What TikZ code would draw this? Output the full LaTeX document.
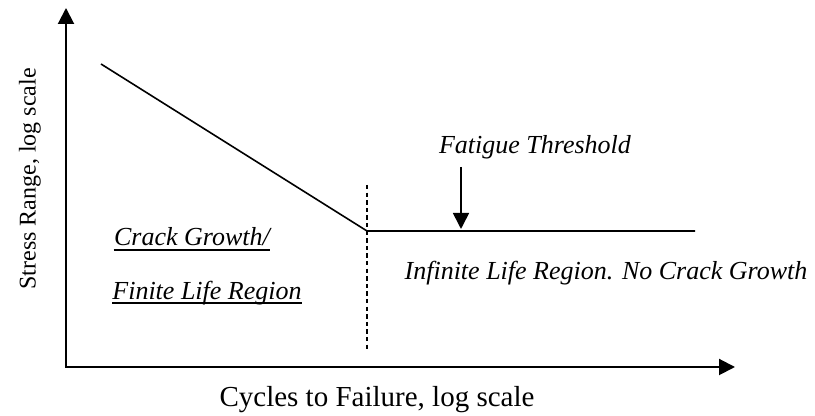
\documentclass[tikz,border=0pt]{standalone}
\usepackage{fontspec}
\setmainfont{Liberation Serif}
\usetikzlibrary{calc,positioning,arrows.meta}

\begin{document}
\begin{tikzpicture}[
x=0.5pt,y=0.5pt,
>={Triangle[length=8pt,width=8pt]},
axis/.style={
	->,
	line width=1pt
},
curve/.style={
	line width=0.8pt
},
divider/.style={
	line width=0.8pt,
	dash pattern=on 2.2pt off 1.6pt
},
region/.style={
	font=\fontsize{13}{15}\selectfont\itshape,
	inner sep=0pt
},
axislabel/.style={
	inner sep=0pt
}
]
\useasboundingbox (0,0) rectangle (815,416);

% axes
\coordinate (origin) at (66,49);
\coordinate (ytip) at (66,408);
\coordinate (xtip) at (735,49);
\draw[axis] ($(origin)+(0,-1)$) -- (ytip);
\draw[axis] ($(origin)+(-1,0)$) -- (xtip);

\node[axislabel,font=\fontsize{14.5}{17}\selectfont] (xlabel) at (377,16) {Cycles to Failure, log scale};
\node[axislabel,font=\fontsize{12}{14}\selectfont,rotate=90] (ylabel) at (30,237) {Stress Range, log scale};

% S-N curve
\coordinate (start) at (101,352);
\coordinate (knee) at (367,185);
\coordinate (finish) at (695,185);
\draw[curve] (start) -- (knee) -- (finish);

% limit between regions
\coordinate (divtop) at (367,231);
\coordinate (divbot) at (367,66);
\draw[divider] (divtop) -- (divbot);

% labels
\node[region] (threshold) at (535,269) {Fatigue Threshold};
\coordinate (thrtop) at (461,249);
\coordinate (thrpt) at (461,187);
\draw[->,line width=0.8pt] (thrtop) -- (thrpt);

\node[region] (crack) at (192,179) {Crack Growth/};
\node[region] (finite) at (207,123) {Finite Life Region};
\draw[line width=0.9pt] ($(crack.base west)+(0,-4)$) -- ($(crack.base east)+(0,-4)$);
\draw[line width=0.9pt] ($(finite.base west)+(0,-4)$) -- ($(finite.base east)+(0,-4)$);
\node[region] (infinite) at (606,143) {Infinite Life Region. No Crack Growth};
\end{tikzpicture}
\end{document}
